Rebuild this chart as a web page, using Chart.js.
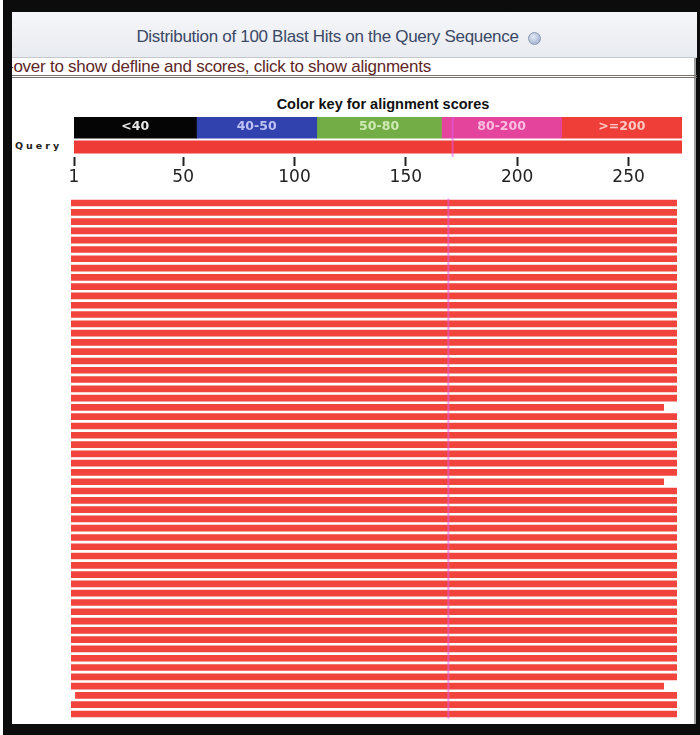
<!DOCTYPE html>
<html>
<head>
<meta charset="utf-8">
<script src="https://cdn.jsdelivr.net/npm/chart.js@4.4.1/dist/chart.umd.min.js"></script>
<style>
body { margin: 0; width: 700px; height: 735px; background: #fff; position: relative; overflow: hidden; font-family: "Liberation Sans", Arial, sans-serif; }
#frame { position: absolute; left: 3px; top: 0; width: 697px; height: 735px; background: #0c0c0c; }
#panel { position: absolute; left: 12px; top: 12px; width: 682px; height: 712px; background: #fff; border-right: 2px solid #a0a0a0; }
#head { position: absolute; left: 12px; top: 12px; width: 685px; height: 45px; background: linear-gradient(#f5f6f9, #e8ebf0); border-bottom: 1px solid #c4c7cd; }
#title { position: absolute; left: 0; top: 27px; width: 655px; text-align: center; font-size: 17px; line-height: 20px; color: #3a4866; letter-spacing: -0.3px; }
#icon { position: absolute; left: 528px; top: 32px; width: 11px; height: 11px; border-radius: 50%; background: radial-gradient(circle at 40% 35%, #e4ebf6, #8fa3c4); border: 1px solid #8a9ab5; }
#sub { position: absolute; left: 12px; top: 58px; width: 685px; height: 17px; border-bottom: 3px double #7d7272; font-size: 17px; line-height: 17px; color: #5e2727; white-space: nowrap; overflow: hidden; text-indent: -4px; letter-spacing: -0.25px; }
#keytitle { position: absolute; left: 0; top: 95px; width: 766px; text-align: center; font-weight: bold; font-size: 14.5px; line-height: 18px; color: #111; }
#qlabel { position: absolute; left: 15px; top: 140px; font-family: "DejaVu Sans", sans-serif; font-weight: bold; font-size: 9.5px; letter-spacing: 3px; color: #222; }
#topChart { position: absolute; left: 0; top: 95px; }
#hitChart { position: absolute; left: 0; top: 192px; }
</style>
</head>
<body>
<div id="frame"></div>
<div id="panel"></div>
<div id="head"></div>
<div id="title">Distribution of 100 Blast Hits on the Query Sequence</div>
<div id="icon"></div>
<div id="sub">-over to show defline and scores, click to show alignments</div>
<div id="keytitle">Color key for alignment scores</div>
<div id="qlabel">Query</div>
<canvas id="topChart" width="700" height="96"></canvas>
<canvas id="hitChart" width="700" height="543"></canvas>
<script>
// query / axis
const queryStart = 1;
const queryEnd = 274;
const tickVals = [1, 50, 100, 150, 200, 250];

// color key
const keyLabels = ['<40', '40-50', '50-80', '80-200', '>=200'];
const keyEdges = [1, 56, 110, 166, 220, 274];
const keyColors = ['#050505', '#3142ae', '#72ad46', '#e5449c', '#ef3d38'];
const keyTextColors = ['rgba(255,255,255,0.9)', 'rgba(215,215,255,0.85)', 'rgba(225,245,200,0.85)', 'rgba(255,210,235,0.85)', 'rgba(255,225,220,0.85)'];

// faint marker line across the hits
const markerPos = 171;

// the hits (query start / end of each alignment)
const hitStarts = [
    1, 1, 1, 1, 1, 1, 1, 1, 1, 1,
    1, 1, 1, 1, 1, 1, 1, 1, 1, 1,
    1, 1, 1, 1, 1, 1, 1, 1, 1, 1,
    1, 1, 1, 1, 1, 1, 1, 1, 1, 1,
    1, 1, 1, 1, 1, 1, 1, 1, 1, 1,
    1, 1, 1, 3, 1, 1
];
const hitEnds = [
    274, 274, 274, 274, 274, 274, 274, 274, 274, 274,
    274, 274, 274, 274, 274, 274, 274, 274, 274, 274,
    274, 274, 268, 274, 274, 274, 274, 274, 274, 274,
    268, 274, 274, 274, 274, 274, 274, 274, 274, 274,
    274, 274, 274, 274, 274, 274, 274, 274, 274, 274,
    274, 274, 268, 274, 274, 274
];

// draws the pink vertical line
const markerLine = {
    id: 'markerLine',
    afterDatasetsDraw(chart) {
        const ctx = chart.ctx;
        const a = chart.chartArea;
        const x = chart.scales.x.getPixelForValue(markerPos);
        ctx.save();
        ctx.strokeStyle = 'rgba(226, 90, 235, 0.55)';
        ctx.lineWidth = 2;
        ctx.beginPath();
        ctx.moveTo(x, a.top);
        ctx.lineTo(x, a.bottom);
        ctx.stroke();
        ctx.restore();
    }
};

// labels inside the color key
const keyText = {
    id: 'keyText',
    afterDatasetsDraw(chart) {
        const ctx = chart.ctx;
        ctx.save();
        ctx.font = 'bold 12.5px "DejaVu Sans", sans-serif';
        ctx.textAlign = 'center';
        ctx.textBaseline = 'middle';
        keyLabels.forEach((lbl, i) => {
            const bar = chart.getDatasetMeta(i).data[0];
            ctx.fillStyle = keyTextColors[i];
            ctx.fillText(lbl, (bar.x + bar.base) / 2, bar.y);
        });
        ctx.restore();
    }
};

const keyDatasets = keyLabels.map((lbl, i) => ({
    label: lbl,
    data: [[keyEdges[i], keyEdges[i + 1]], null],
    backgroundColor: keyColors[i],
    barThickness: 22.5,
    grouped: false
}));

new Chart(document.getElementById('topChart'), {
    type: 'bar',
    data: {
        labels: ['key', 'Query'],
        datasets: keyDatasets.concat([{
            label: 'Query',
            data: [null, [queryStart, queryEnd]],
            backgroundColor: '#ee3b36',
            barThickness: 12.5,
            grouped: false
        }])
    },
    options: {
        indexAxis: 'y',
        responsive: false,
        animation: false,
        layout: { padding: { left: 74, right: 18, top: 22, bottom: 2 } },
        plugins: { legend: { display: false }, tooltip: { enabled: false } },
        scales: {
            x: {
                type: 'linear',
                min: queryStart,
                max: queryEnd,
                afterBuildTicks: scale => { scale.ticks = tickVals.map(v => ({ value: v })); },
                border: { display: false },
                grid: { drawOnChartArea: false, drawTicks: true, tickLength: 9, tickColor: '#222', tickWidth: 2 },
                ticks: { color: '#222', padding: 3, maxRotation: 0, autoSkip: false, font: { family: 'DejaVu Sans', size: 17, lineHeight: 1 } }
            },
            y: { display: false }
        }
    },
    plugins: [keyText, markerLine]
});

new Chart(document.getElementById('hitChart'), {
    type: 'bar',
    data: {
        labels: hitStarts.map((s, i) => 'hit ' + (i + 1)),
        datasets: [{
            label: 'hits',
            data: hitStarts.map((s, i) => [s, hitEnds[i]]),
            backgroundColor: '#f0443c',
            barThickness: 6
        }]
    },
    options: {
        indexAxis: 'y',
        responsive: false,
        animation: false,
        layout: { padding: { left: 71, right: 23, top: 6.4, bottom: 16.4 } },
        plugins: { legend: { display: false }, tooltip: { enabled: false } },
        scales: {
            x: { type: 'linear', min: queryStart, max: queryEnd, display: false },
            y: { display: false }
        }
    },
    plugins: [markerLine]
});
</script>
</body>
</html>
